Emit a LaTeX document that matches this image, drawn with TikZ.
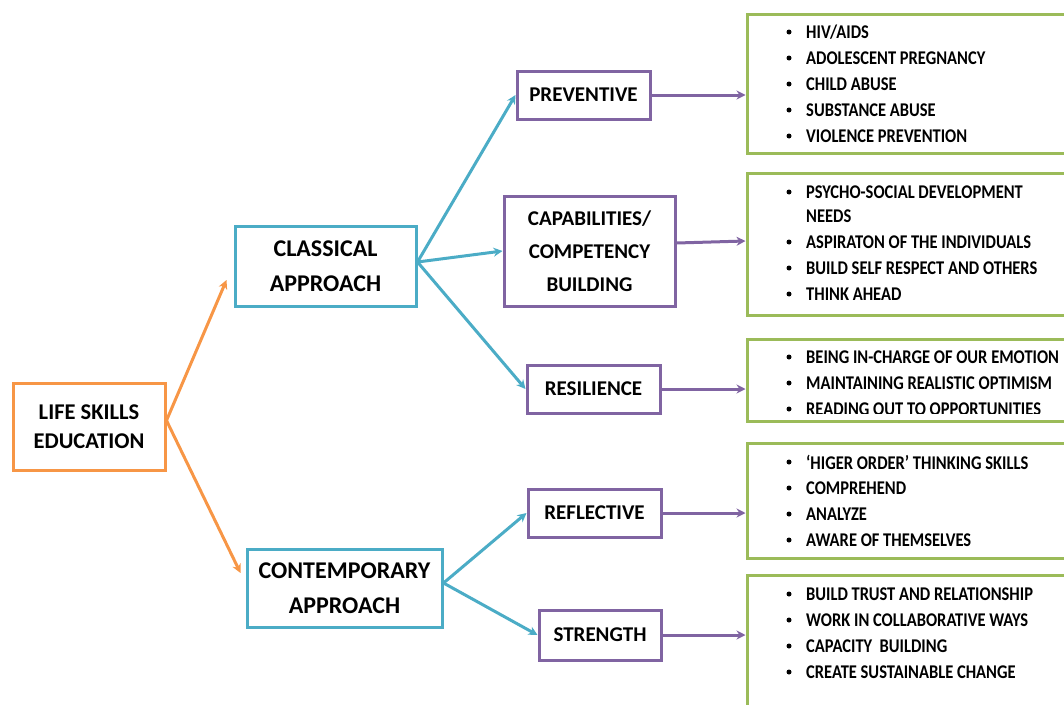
\documentclass[tikz,border=0pt]{standalone}
\usepackage{fontspec}
\setmainfont{Carlito}
\newfontfamily\narrowfont[FakeStretch=0.85, Ligatures=TeX]{Carlito}
\usetikzlibrary{arrows.meta}

\definecolor{lsorange}{HTML}{F79646}
\definecolor{lsblue}{HTML}{4BACC6}
\definecolor{lspurple}{HTML}{8064A2}
\definecolor{lsgreen}{HTML}{9BBB59}

\tikzset{
  box/.style={draw, line width=3pt, fill=white, align=center, inner sep=0pt,
    font=\fontsize{21}{33}\selectfont\bfseries},
  rootbox/.style={box, draw=lsorange, font=\fontsize{22.5}{29}\selectfont\bfseries},
  approachbox/.style={box, draw=lsblue, font=\fontsize{24}{35}\selectfont\bfseries},
  typebox/.style={box, draw=lspurple},
  listbox/.style={draw=lsgreen, line width=3pt, inner sep=0pt},
  item/.style={anchor=west, inner sep=0pt, font=\narrowfont\fontsize{19.4}{22}\selectfont\bfseries},
  dot/.style={circle, fill=black, inner sep=0pt, minimum size=5pt},
  tip/.style={-{Stealth[length=9pt,width=9pt]}},
  orangearrow/.style={tip, draw=lsorange, line width=3pt},
  bluearrow/.style={tip, draw=lsblue, line width=3pt},
  purplearrow/.style={tip, draw=lspurple, line width=3pt},
}

\begin{document}
\begin{tikzpicture}[x=1pt, y=-1pt]
\useasboundingbox (0,0) rectangle (1064,704);

% left to right: root, approaches, types
\node[rootbox, minimum width=152pt, minimum height=87pt] (life) at (89,426.5)
  {LIFE SKILLS\\EDUCATION};
\node[approachbox, minimum width=181pt, minimum height=80pt] (classical) at (325.5,266)
  {\raisebox{-3pt}{CLASSICAL}\\\raisebox{-3pt}{APPROACH}};
\node[approachbox, minimum width=195pt, minimum height=78pt] (contemporary) at (344.5,588)
  {\raisebox{-3pt}{CONTEMPORARY}\\\raisebox{-3pt}{APPROACH}};

\node[typebox, minimum width=133pt, minimum height=48pt] (preventive) at (583.5,95)
  {PREVENTIVE};
\node[typebox, minimum width=171pt, minimum height=110pt] (capabilities) at (589.5,251)
  {CAPABILITIES/\\COMPETENCY\\BUILDING};
\node[typebox, minimum width=133pt, minimum height=48pt] (resilience) at (593.5,389)
  {RESILIENCE};
\node[typebox, minimum width=133pt, minimum height=48pt] (reflective) at (594.5,513)
  {REFLECTIVE};
\node[typebox, minimum width=122pt, minimum height=50pt] (strength) at (600,635)
  {STRENGTH};

% lists on the right (they run off the page edge)
\node[listbox, minimum width=340pt, minimum height=139pt] (l1) at (917,83.5) {};
\node[listbox, minimum width=340pt, minimum height=142pt] (l2) at (917,244) {};
\node[listbox, minimum width=340pt, minimum height=82pt] (l3) at (917,380) {};
\node[listbox, minimum width=340pt, minimum height=115pt] (l4) at (917,500.5) {};
\node[listbox, minimum width=340pt, minimum height=160pt] (l5) at (917,655) {};

\newcommand{\listline}[3]{%
  \node[dot] (#1d) at (789,#2) {};
  \node[item] (#1t) at (806,#2) {#3};}
\newcommand{\contline}[3]{%
  \node[item] (#1t) at (806,#2) {#3};}

\listline{a1}{32}{HIV/AIDS}
\listline{a2}{58}{ADOLESCENT PREGNANCY}
\listline{a3}{84}{CHILD ABUSE}
\listline{a4}{110}{SUBSTANCE ABUSE}
\listline{a5}{136}{VIOLENCE PREVENTION}

\listline{b1}{192}{PSYCHO-SOCIAL DEVELOPMENT}
\contline{b2}{216}{NEEDS}
\listline{b3}{242}{ASPIRATON OF THE INDIVIDUALS}
\listline{b4}{268}{BUILD SELF RESPECT AND OTHERS}
\listline{b5}{294}{THINK AHEAD}

\listline{c1}{357}{BEING IN-CHARGE OF OUR EMOTION}
\listline{c2}{383}{MAINTAINING REALISTIC OPTIMISM}
\begin{scope}
  \clip (740,340) rectangle (1064,413);
  \listline{c3}{409}{READING OUT TO OPPORTUNITIES}
\end{scope}

\listline{d1}{462}{‘HIGER ORDER’ THINKING SKILLS}
\listline{d2}{488}{COMPREHEND}
\listline{d3}{514}{ANALYZE}
\listline{d4}{540}{AWARE OF THEMSELVES}

\listline{e1}{594}{BUILD TRUST AND RELATIONSHIP}
\listline{e2}{620}{WORK IN COLLABORATIVE WAYS}
\listline{e3}{646}{CAPACITY\ \ BUILDING}
\listline{e4}{672}{CREATE SUSTAINABLE CHANGE}

% connectors
\coordinate (lifeout) at ([yshift=6pt]life.east);
\draw[orangearrow] (lifeout) -- ([shift={(-7,14)}]classical.west);
\draw[orangearrow] (lifeout) -- ([shift={(-5,-15)}]contemporary.west);

\coordinate (clout) at ([yshift=4pt]classical.east);
\draw[bluearrow] (clout) -- (preventive.west);
\draw[bluearrow] (clout) -- (capabilities.west);
\draw[bluearrow] (clout) -- (resilience.west);

\coordinate (coout) at ([yshift=5pt]contemporary.east);
\draw[bluearrow] (coout) -- (reflective.west);
\draw[bluearrow] (coout) -- (strength.west);

\draw[purplearrow] (preventive.east) -- (preventive.east -| l1.west);
\draw[purplearrow] ([yshift=8pt]capabilities.east) -- ([yshift=10pt]capabilities.east -| l2.west);
\draw[purplearrow] (resilience.east) -- (resilience.east -| l3.west);
\draw[purplearrow] (reflective.east) -- (reflective.east -| l4.west);
\draw[purplearrow] (strength.east) -- (strength.east -| l5.west);
\end{tikzpicture}
\end{document}
